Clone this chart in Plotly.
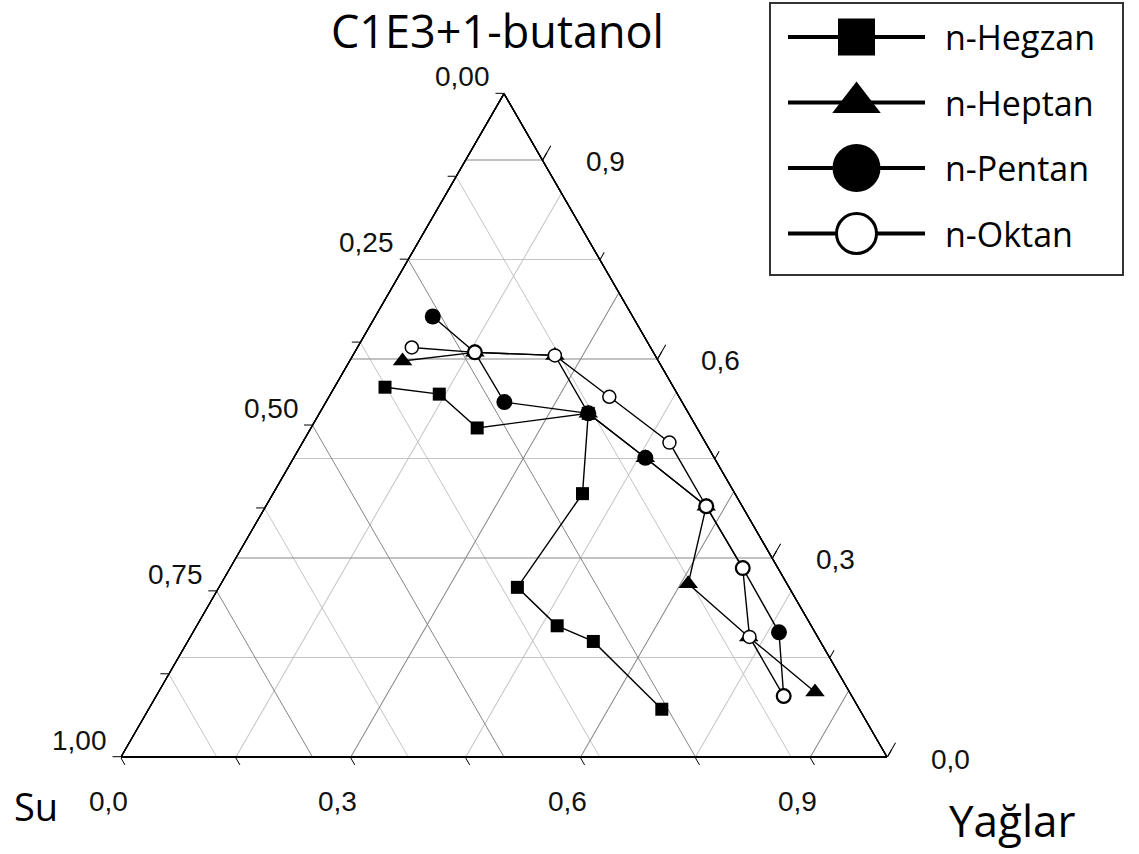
import math
import plotly.graph_objects as go

# ---------------------------------------------------------------------------
# Phase-diagram data: each point is (C1E3+1-butanol, Su, Yağlar) mass fraction
# ---------------------------------------------------------------------------
series_names = ["n-Hegzan", "n-Heptan", "n-Pentan", "n-Oktan"]

hegzan_butanol = [0.558, 0.547, 0.496, 0.518, 0.397, 0.256, 0.198, 0.174, 0.072]
hegzan_su      = [0.377, 0.311, 0.287, 0.131, 0.199, 0.355, 0.332, 0.296, 0.258]
hegzan_yaglar  = [0.066, 0.142, 0.217, 0.351, 0.404, 0.390, 0.471, 0.529, 0.670]

heptan_butanol = [0.597, 0.610, 0.606, 0.518, 0.451, 0.378, 0.261, 0.181, 0.098]
heptan_su      = [0.334, 0.233, 0.131, 0.131, 0.090, 0.047, 0.129, 0.090, 0.045]
heptan_yaglar  = [0.069, 0.157, 0.264, 0.351, 0.459, 0.575, 0.610, 0.729, 0.857]

pentan_butanol = [0.664, 0.610, 0.535, 0.518, 0.451, 0.378, 0.285, 0.188, 0.092]
pentan_su      = [0.261, 0.233, 0.232, 0.131, 0.090, 0.047, 0.046, 0.047, 0.089]
pentan_yaglar  = [0.075, 0.157, 0.233, 0.351, 0.459, 0.575, 0.670, 0.765, 0.820]

oktan_butanol  = [0.618, 0.610, 0.606, 0.543, 0.474, 0.378, 0.285, 0.181, 0.092]
oktan_su       = [0.312, 0.233, 0.131, 0.091, 0.047, 0.047, 0.046, 0.089, 0.089]
oktan_yaglar   = [0.071, 0.157, 0.264, 0.366, 0.479, 0.575, 0.670, 0.730, 0.820]

# Axis ticks and labels (Su on the left edge, Yağlar on the bottom, butanol on the right)
su_ticks = [0.0, 0.125, 0.25, 0.375, 0.5, 0.625, 0.75, 0.875, 1.0]
su_label_values = [0.0, 0.25, 0.5, 0.75, 1.0]
su_labels = ["0,00", "0,25", "0,50", "0,75", "1,00"]

yaglar_ticks = [0.0, 0.15, 0.3, 0.45, 0.6, 0.75, 0.9]
yaglar_label_values = [0.0, 0.3, 0.6, 0.9]
yaglar_labels = ["0,0", "0,3", "0,6", "0,9"]

butanol_ticks = [0.0, 0.15, 0.3, 0.45, 0.6, 0.75, 0.9]
butanol_label_values = [0.0, 0.3, 0.6, 0.9]
butanol_labels = ["0,0", "0,3", "0,6", "0,9"]

# ---------------------------------------------------------------------------
# Page geometry
# ---------------------------------------------------------------------------
FIG_W, FIG_H = 1139, 854
TRI_LEFT, TRI_BOTTOM, TRI_WIDTH = 121, 757, 766
TRI_HEIGHT = TRI_WIDTH * math.sqrt(3) / 2
TRI_DOMAIN = dict(
    x=[TRI_LEFT / FIG_W, (TRI_LEFT + TRI_WIDTH) / FIG_W],
    y=[(FIG_H - TRI_BOTTOM) / FIG_H, (FIG_H - TRI_BOTTOM + TRI_HEIGHT) / FIG_H],
)

LINE_BLACK = "#000000"
GRID_MINOR = "#c4c4c4"
GRID_MAJOR = "#858585"
TICK_FONT = dict(family="Liberation Sans, Arial, sans-serif", size=28, color="#111111")
TEXT_FONT = "Open Sans, sans-serif"


def split(values, majors):
    inner = [v for v in values if 0 < v < 1]
    return ([v for v in inner if v not in majors], [v for v in inner if v in majors])


su_minor, su_major = split(su_ticks, su_label_values)
yag_minor, yag_major = split(yaglar_ticks, yaglar_label_values)
but_minor, but_major = split(butanol_ticks, butanol_label_values)


def axis(grid_vals=None, grid_color=None, tick_vals=None, ticklen=0, linewidth=1.2):
    """One ternary axis: either a set of grid lines or a set of tick marks."""
    vals = grid_vals if grid_vals is not None else (tick_vals or [])
    return dict(
        tickmode="array",
        tickvals=vals,
        showgrid=grid_vals is not None,
        gridcolor=grid_color or GRID_MINOR,
        gridwidth=1,
        ticks="outside" if (tick_vals and ticklen) else "",
        ticklen=ticklen,
        tickwidth=1,
        tickcolor=LINE_BLACK,
        showticklabels=False,
        showline=True,
        linecolor=LINE_BLACK,
        linewidth=linewidth,
        title=dict(text=""),
    )


def ternary_layer(aax, bax, cax, bg="rgba(0,0,0,0)"):
    return dict(domain=TRI_DOMAIN, bgcolor=bg, sum=1, aaxis=aax, baxis=bax, caxis=cax)


layout_ternaries = {
    # light grid lines
    "ternary": ternary_layer(
        axis(grid_vals=but_minor, grid_color=GRID_MINOR),
        axis(grid_vals=su_minor, grid_color=GRID_MINOR, linewidth=2),
        axis(grid_vals=yag_minor, grid_color=GRID_MINOR),
        bg="#ffffff",
    ),
    # darker grid lines
    "ternary2": ternary_layer(
        axis(grid_vals=but_major, grid_color=GRID_MAJOR),
        axis(grid_vals=su_major, grid_color=GRID_MAJOR, linewidth=2),
        axis(grid_vals=yag_major, grid_color=GRID_MAJOR),
    ),
    # long tick marks for the labelled butanol values on the right edge
    "ternary3": ternary_layer(
        axis(tick_vals=[]),
        axis(tick_vals=[], linewidth=2),
        axis(tick_vals=[1 - v for v in butanol_label_values], ticklen=16),
    ),
    # short tick marks on every edge, plus the data
    "ternary4": ternary_layer(
        axis(tick_vals=[1 - v for v in su_ticks], ticklen=8),
        axis(tick_vals=[1 - v for v in yaglar_ticks], ticklen=8, linewidth=2),
        axis(tick_vals=[1 - v for v in butanol_ticks], ticklen=8),
    ),
}

fig = go.Figure()

# every ternary layer needs a trace of its own before plotly draws it
for sub in ("ternary", "ternary2", "ternary3"):
    fig.add_trace(go.Scatterternary(a=[], b=[], c=[], mode="none", subplot=sub,
                                    showlegend=False, hoverinfo="skip"))

series = [
    (hegzan_butanol, hegzan_su, hegzan_yaglar,
     dict(symbol="square", size=13, color="black", line=dict(width=0))),
    (heptan_butanol, heptan_su, heptan_yaglar,
     dict(symbol="triangle-up", size=17, color="black", line=dict(width=0))),
    (pentan_butanol, pentan_su, pentan_yaglar,
     dict(symbol="circle", size=16, color="black", line=dict(width=0))),
    (oktan_butanol, oktan_su, oktan_yaglar,
     dict(symbol="circle", size=13, color="white", line=dict(width=1.5, color="black"))),
]

for name, (a_vals, b_vals, c_vals, marker) in zip(series_names, series):
    fig.add_trace(go.Scatterternary(
        a=a_vals, b=b_vals, c=c_vals,
        name=name, mode="lines+markers",
        line=dict(color="black", width=1.4),
        marker=marker, cliponaxis=False, showlegend=False,
        subplot="ternary4",
    ))

# ---------------------------------------------------------------------------
# Hand-drawn legend: a hidden cartesian panel with one row per series
# ---------------------------------------------------------------------------
legend_markers = [
    dict(symbol="square", size=37, color="black", line=dict(width=0)),
    dict(symbol="triangle-up", size=42, color="black", line=dict(width=0)),
    dict(symbol="circle", size=48, color="black", line=dict(width=0)),
    dict(symbol="circle", size=40, color="white", line=dict(width=3, color="black")),
]
for row, (name, mk) in enumerate(zip(series_names, legend_markers)):
    fig.add_trace(go.Scatter(x=[0, 1], y=[row, row], mode="lines",
                             line=dict(color="black", width=4),
                             xaxis="x", yaxis="y", showlegend=False, hoverinfo="skip"))
    fig.add_trace(go.Scatter(x=[0.5], y=[row], mode="markers", marker=mk,
                             xaxis="x", yaxis="y", showlegend=False, cliponaxis=False,
                             hoverinfo="skip"))

LEG_LINE_X0, LEG_LINE_X1 = 788, 925
LEG_ROW0, LEG_ROW_STEP = 37, 65.5
pad_x = 0.1 * (LEG_LINE_X1 - LEG_LINE_X0)
leg_top = LEG_ROW0 - 0.5 * LEG_ROW_STEP
leg_bottom = LEG_ROW0 + 3.5 * LEG_ROW_STEP

annotations = []
for row, name in enumerate(series_names):
    annotations.append(dict(x=1, y=row, xref="x", yref="y", text=name, showarrow=False,
                            xanchor="left", yanchor="middle", xshift=18,
                            font=dict(family=TEXT_FONT, size=34, color="black")))


def edge_anchor(butanol, yaglar):
    """Paper coordinates of a point on the triangle outline."""
    px = TRI_LEFT + (yaglar + butanol / 2) * TRI_WIDTH
    py = (FIG_H - TRI_BOTTOM) + butanol * TRI_HEIGHT
    return px / FIG_W, py / FIG_H


for v, txt in zip(su_label_values, su_labels):
    x, y = edge_anchor(1 - v, 0)
    annotations.append(dict(x=x, y=y, xref="paper", yref="paper", text=txt, showarrow=False,
                            xanchor="right", yanchor="middle", xshift=-12, yshift=17,
                            font=TICK_FONT))
for v, txt in zip(yaglar_label_values, yaglar_labels):
    x, y = edge_anchor(0, v)
    annotations.append(dict(x=x, y=y, xref="paper", yref="paper", text=txt, showarrow=False,
                            xanchor="center", yanchor="middle", xshift=-13, yshift=-44,
                            font=TICK_FONT))
for v, txt in zip(butanol_label_values, butanol_labels):
    x, y = edge_anchor(v, 1 - v)
    annotations.append(dict(x=x, y=y, xref="paper", yref="paper", text=txt, showarrow=False,
                            xanchor="left", yanchor="middle", xshift=42, yshift=-2,
                            font=TICK_FONT))

# Component names at the three corners
annotations += [
    dict(x=497 / FIG_W, y=1, xref="paper", yref="paper", text="C1E3+1-butanol",
         showarrow=False, xanchor="center", yanchor="top", yshift=1, borderpad=0,
         font=dict(family=TEXT_FONT, size=45, color="black")),
    dict(x=36 / FIG_W, y=1 - 806 / FIG_H, xref="paper", yref="paper", text="Su",
         showarrow=False, xanchor="center", yanchor="middle",
         font=dict(family=TEXT_FONT, size=38, color="black")),
    dict(x=1012 / FIG_W, y=1 - 820 / FIG_H, xref="paper", yref="paper", text="Yağlar",
         showarrow=False, xanchor="center", yanchor="middle",
         font=dict(family=TEXT_FONT, size=44, color="black")),
]

fig.update_layout(
    width=FIG_W, height=FIG_H,
    margin=dict(l=0, r=0, t=0, b=0),
    paper_bgcolor="white", plot_bgcolor="rgba(0,0,0,0)",
    template="none",
    showlegend=False,
    annotations=annotations,
    shapes=[dict(type="rect", xref="paper", yref="paper",
                 x0=770 / FIG_W, x1=1123 / FIG_W, y0=1 - 275 / FIG_H, y1=1 - 3 / FIG_H,
                 line=dict(color="#333333", width=2), fillcolor="rgba(0,0,0,0)")],
    xaxis=dict(domain=[(LEG_LINE_X0 - pad_x) / FIG_W, (LEG_LINE_X1 + pad_x) / FIG_W],
               range=[-0.1, 1.1], visible=False, fixedrange=True),
    yaxis=dict(domain=[1 - leg_bottom / FIG_H, 1 - leg_top / FIG_H],
               range=[3.5, -0.5], visible=False, fixedrange=True),
    **layout_ternaries,
)

fig.write_html("out.html")
